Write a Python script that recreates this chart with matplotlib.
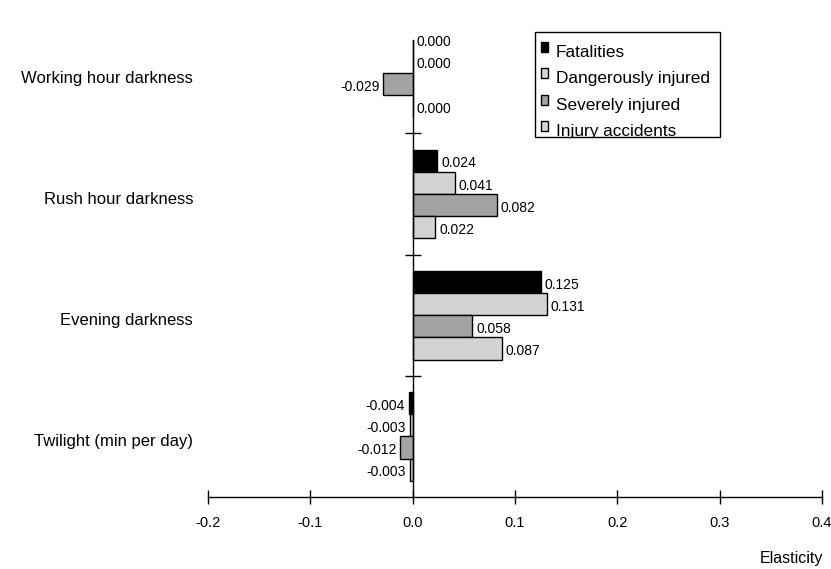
import numpy as np
import matplotlib
matplotlib.use("Agg")
import matplotlib.pyplot as plt
from matplotlib.patches import Rectangle
from matplotlib.transforms import blended_transform_factory

plt.rcParams['font.family'] = ['Liberation Sans', 'DejaVu Sans']

categories = ["Working hour darkness", "Rush hour darkness",
              "Evening darkness", "Twilight (min per day)"]
series_names = ["Fatalities", "Dangerously injured",
                "Severely injured", "Injury accidents"]
fatalities = [0.000, 0.024, 0.125, -0.004]
dangerously = [0.000, 0.041, 0.131, -0.003]
severely = [-0.029, 0.082, 0.058, -0.012]
injury_acc = [0.000, 0.022, 0.087, -0.003]
x_ticks = [-0.2, -0.1, 0.0, 0.1, 0.2, 0.3, 0.4]

colors = ["#000000", "#d3d3d3", "#a3a3a3", "#d3d3d3"]

W, H = 831, 569
fig = plt.figure(figsize=(W / 100, H / 100), dpi=100)
ax = fig.add_axes([208 / W, 72 / H, 614 / W, 457 / H])


def fx(px):
    return px / W


def fy(py):
    return 1 - py / H


n = len(categories)
ypos = np.arange(n)[::-1]  # first category at the top
h = 0.183
offsets = [1.5 * h, 0.5 * h, -0.5 * h, -1.5 * h]

for vals, name, col, off in zip([fatalities, dangerously, severely, injury_acc],
                                series_names, colors, offsets):
    ax.barh(ypos + off, vals, height=h, color=col, edgecolor="black",
            linewidth=1.0, label=name)
    for v, y in zip(vals, ypos + off):
        if v < 0:
            ax.annotate(f"{v:.3f}", (v, y), xytext=(-2.5, -2), textcoords="offset points",
                        ha="right", va="center", fontsize=10, annotation_clip=False)
        else:
            ax.annotate(f"{v:.3f}", (v, y), xytext=(3, -2), textcoords="offset points",
                        ha="left", va="center", fontsize=10, annotation_clip=False)

ax.set_xlim(-0.2, 0.4)
ax.set_ylim(-0.5, 3.27)

for s in ["top", "right"]:
    ax.spines[s].set_visible(False)
ax.spines["left"].set_position(("data", 0))
ax.spines["left"].set_linewidth(1.0)
ax.spines["bottom"].set_linewidth(1.0)

ax.set_xticks(x_ticks)
ax.set_xticklabels([f"{t:.1f}" for t in x_ticks])
ax.tick_params(axis="x", direction="inout", length=10, width=1.0, labelsize=10.5, pad=9)
ax.set_yticks([0.5, 1.5, 2.5])
ax.set_yticklabels([])
ax.tick_params(axis="y", direction="inout", length=11, width=1.0)

trans = blended_transform_factory(fig.transFigure, ax.transData)
for cat, y in zip(categories, ypos):
    ax.annotate(cat, (193 / W, y), xycoords=trans, xytext=(0, -4),
                textcoords="offset points", ha="right", va="center",
                fontsize=12, annotation_clip=False)

fig.text(fx(823), fy(559), "Elasticity", ha="right", va="center", fontsize=11.5)

# legend box drawn by hand, the last entry is cut by the frame like in the source
frame = Rectangle((fx(535), fy(137)), fx(720) - fx(535), fy(32) - fy(137),
                  transform=fig.transFigure, facecolor="white", edgecolor="black",
                  linewidth=1.0, zorder=5)
fig.add_artist(frame)
for i, (name, col) in enumerate(zip(series_names, colors)):
    base = 57 + 26.3 * i
    fig.add_artist(Rectangle((fx(541), fy(base - 5)), fx(548) - fx(541), fy(base - 15) - fy(base - 5),
                             transform=fig.transFigure, facecolor=col,
                             edgecolor="black", linewidth=1.0, zorder=6))
    t = fig.text(fx(556), fy(base), name, ha="left", va="baseline", fontsize=12.4, zorder=6)
    t.set_clip_path(frame)

fig.savefig("out.png", dpi=100)
